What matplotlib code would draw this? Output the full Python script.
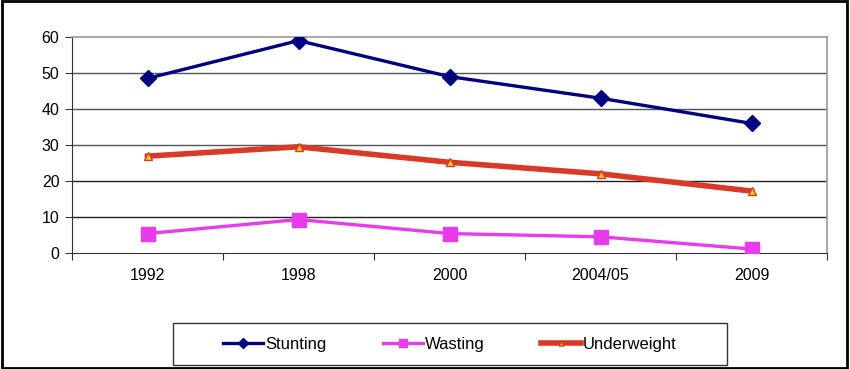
import matplotlib
matplotlib.use("Agg")
import matplotlib.pyplot as plt
from matplotlib.patches import Rectangle

years = ["1992", "1998", "2000", "2004/05", "2009"]
stunting = [48.5, 59.0, 49.0, 43.0, 36.0]
wasting = [5.4, 9.3, 5.4, 4.5, 1.1]
underweight = [26.9, 29.5, 25.2, 22.0, 17.2]

plt.rcParams['font.family'] = ['Liberation Sans', 'DejaVu Sans']

fig = plt.figure(figsize=(8.5, 3.69), dpi=100)
W, H = 850, 369
ax = fig.add_axes([72 / W, 1 - 253 / H, (827 - 72) / W, (253 - 37) / H])

x = list(range(len(years)))
ax.plot(x, stunting, color="#000080", lw=2.4, marker="D", ms=8, label="Stunting", zorder=4)
ax.plot(x, wasting, color="#E83CEC", lw=2.4, marker="s", ms=10, label="Wasting", zorder=4)
ax.plot(x, underweight, color="#D93A28", lw=4, marker="^", ms=6, mfc="#F5D020",
        mec="#D93A28", mew=1, label="Underweight", zorder=4)

ax.set_xlim(-0.5, len(years) - 0.5)
ax.set_ylim(0, 60)
ax.set_yticks(range(0, 61, 10))
ax.set_xticks([i + 0.5 for i in range(-1, len(years))], minor=False)
ax.set_xticklabels([])
ax.set_xticks(x, minor=True)
ax.set_xticklabels(years, minor=True)
ax.tick_params(axis="x", which="minor", length=0, pad=11, labelsize=11.5)
ax.tick_params(axis="x", which="major", length=5, direction="out", color="#333333")
ax.tick_params(axis="y", length=5, direction="out", labelsize=11.5, pad=4, color="#333333")

for yv in range(10, 60, 10):
    ax.axhline(yv, color="#222222" if yv <= 20 else "#555555", lw=1, zorder=1)
for s in ["top", "right"]:
    ax.spines[s].set_color("#999999")
    ax.spines[s].set_linewidth(1.2)
for s in ["left", "bottom"]:
    ax.spines[s].set_color("#333333")

leg = fig.legend(loc="center", bbox_to_anchor=((173 + 727) / 2 / W, 1 - 344 / H),
                 ncol=3, frameon=False,
                 fontsize=12, handlelength=2.4, handletextpad=0.1, columnspacing=3.4,
                 markerscale=0.6)

fig.patches.append(Rectangle((173 / W, 1 - 365 / H), (727 - 173) / W, 42 / H,
                             transform=fig.transFigure, fill=False,
                             edgecolor="#333333", lw=1))

fig.patches.append(Rectangle((0.002, 0.003), 0.994, 0.994, transform=fig.transFigure,
                             fill=False, edgecolor="black", lw=2))

fig.savefig("out.png", dpi=100)
